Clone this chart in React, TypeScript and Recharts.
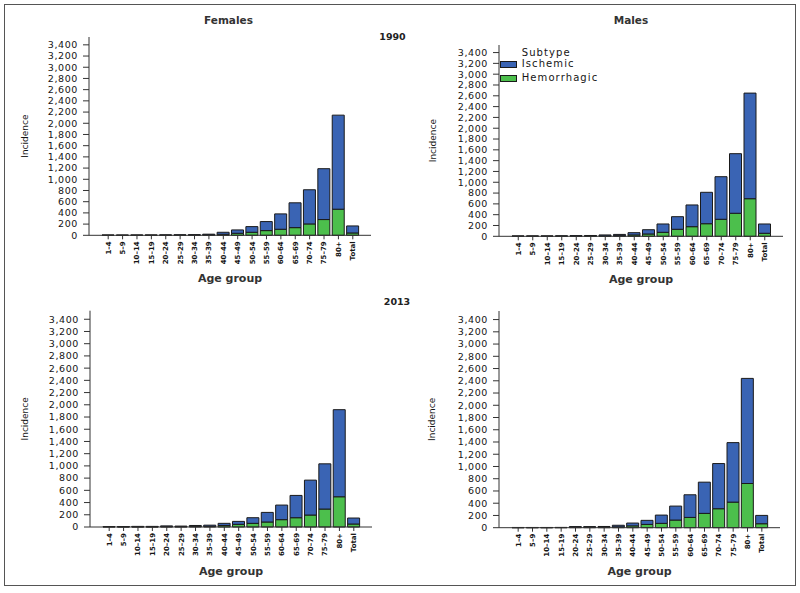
import React from 'react';
import { BarChart, Bar, XAxis, YAxis, Legend } from 'recharts';

const ageGroups = ['1–4', '5–9', '10–14', '15–19', '20–24', '25–29', '30–34', '35–39', '40–44', '45–49', '50–54', '55–59', '60–64', '65–69', '70–74', '75–79', '80+', 'Total'];
const yTicks = [0, 200, 400, 600, 800, 1000, 1200, 1400, 1600, 1800, 2000, 2200, 2400, 2600, 2800, 3000, 3200, 3400];

// Females 1990
const femIsch1990 = [2, 1, 1, 2, 3, 3, 5, 12, 36, 60, 101, 161, 274, 443, 610, 908, 1679, 125];
const femHem1990 = [1, 1, 2, 2, 3, 4, 5, 8, 18, 36, 54, 84, 108, 137, 203, 281, 466, 42];
// Males 1990
const maleIsch1990 = [3, 4, 4, 5, 8, 10, 17, 23, 42, 79, 154, 233, 402, 581, 788, 1103, 1954, 172];
const maleHem1990 = [2, 2, 2, 3, 4, 5, 8, 12, 25, 43, 74, 130, 178, 233, 315, 426, 696, 56];
// Females 2013
const femIsch2013 = [4, 5, 7, 7, 12, 9, 17, 20, 35, 48, 92, 157, 239, 365, 571, 740, 1425, 98];
const femHem2013 = [4, 3, 3, 3, 6, 6, 8, 10, 25, 44, 60, 82, 120, 152, 196, 294, 495, 49];
// Males 2013
const maleIsch2013 = [3, 3, 3, 3, 12, 12, 13, 26, 46, 66, 135, 228, 370, 510, 738, 972, 1717, 136];
const maleHem2013 = [1, 1, 1, 2, 6, 6, 7, 14, 30, 54, 71, 125, 168, 234, 310, 418, 722, 65];

const BLUE = '#3a64b4';
const GREEN = '#4cbf4c';
const FONT = '"DejaVu Sans", sans-serif';
const TXT = '#151515';

const build = (isch: number[], hem: number[]) =>
  ageGroups.map((age, i) => ({ age, isch: isch[i], hem: hem[i] }));

const fmt = (v: number) => v.toLocaleString('en-US');

const XTick = (props: any) => {
  const { x, y, payload } = props;
  return (
    <text
      x={x}
      y={y}
      transform={`rotate(-90, ${x}, ${y})`}
      textAnchor="end"
      dy="0.35em"
      fontFamily={FONT}
      fontSize={7}
      fontWeight="bold"
      fill={TXT}
    >
      {payload.value}
    </text>
  );
};

const LegendContent = (props: any) => {
  const payload = [...(props.payload || [])].reverse();
  return (
    <div style={{ position: 'relative', width: 130, height: 45, fontFamily: FONT, fontSize: 10, letterSpacing: 1.1, color: TXT }}>
      <div style={{ position: 'absolute', left: 21.7, top: 3.1, lineHeight: '10.4px', whiteSpace: 'nowrap' }}>Subtype</div>
      {payload.map((p: any, i: number) => (
        <React.Fragment key={p.value}>
          <div
            style={{
              position: 'absolute',
              left: 0,
              top: 15.7 + i * 14.3,
              width: 16.5,
              height: 7,
              boxSizing: 'border-box',
              background: p.color,
              border: '1px solid #1a1a1a',
            }}
          />
          <div style={{ position: 'absolute', left: 21.7, top: 13.8 + i * 13.7, lineHeight: '10.4px', whiteSpace: 'nowrap' }}>{p.value}</div>
        </React.Fragment>
      ))}
    </div>
  );
};

type Cfg = {
  x: number;
  y: number;
  w: number;
  h: number;
  margin: { top: number; right: number; bottom: number; left: number };
  yLabelOffset: number;
  xLabelOffset: number;
};

const Panel = ({ data, cfg, legend }: { data: any[]; cfg: Cfg; legend?: boolean }) => (
  <div style={{ position: 'absolute', left: cfg.x, top: cfg.y }}>
    <BarChart width={cfg.w} height={cfg.h} data={data} margin={cfg.margin} barSize={12}>
      <XAxis
        dataKey="age"
        interval={0}
        tick={<XTick />}
        tickSize={4}
        tickMargin={2}
        height={50}
        padding={{ left: 12, right: 11 }}
        axisLine={{ stroke: '#333' }}
        tickLine={{ stroke: '#333' }}
        label={{
          value: 'Age group',
          position: 'insideBottom',
          offset: cfg.xLabelOffset,
          style: { fontFamily: FONT, fontSize: 11, fontWeight: 'bold', fill: '#333' },
        }}
      />
      <YAxis
        width={74}
        domain={[0, 3540]}
        ticks={yTicks}
        interval={0}
        tickFormatter={fmt}
        tickSize={6}
        tickMargin={5}
        axisLine={{ stroke: '#333' }}
        tickLine={{ stroke: '#333' }}
        tick={{ fontFamily: FONT, fontSize: 9.5, fill: TXT, letterSpacing: 0.6 }}
        label={{
          value: 'Incidence',
          angle: -90,
          position: 'insideLeft',
          offset: cfg.yLabelOffset,
          style: { textAnchor: 'middle', fontFamily: FONT, fontSize: 9, fill: TXT },
        }}
      />
      {legend && (
        <Legend
          layout="horizontal"
          verticalAlign="middle"
          align="center"
          content={<LegendContent />}
          wrapperStyle={{ left: 100, top: 45, width: 130, height: 45 }}
        />
      )}
      <Bar dataKey="hem" name="Hemorrhagic" stackId="s" fill={GREEN} stroke="#1a1a1a" strokeWidth={1} isAnimationActive={false} />
      <Bar dataKey="isch" name="Ischemic" stackId="s" fill={BLUE} stroke="#1a1a1a" strokeWidth={1} isAnimationActive={false} />
    </BarChart>
  </div>
);

const panels: Cfg[] = [
  { x: 0, y: 0, w: 400, h: 300, margin: { top: 37, right: 29, bottom: 14.7, left: 15 }, yLabelOffset: 10, xLabelOffset: 3.3 },
  { x: 400, y: 0, w: 400, h: 300, margin: { top: 45, right: 17, bottom: 13.7, left: 25 }, yLabelOffset: 8, xLabelOffset: 3.6 },
  { x: 0, y: 290, w: 400, h: 303, margin: { top: 20.7, right: 28, bottom: 16, left: 16 }, yLabelOffset: 9, xLabelOffset: 2 },
  { x: 400, y: 290, w: 400, h: 303, margin: { top: 21, right: 20, bottom: 15.3, left: 25 }, yLabelOffset: 7, xLabelOffset: 2.7 },
];

const titleStyle: React.CSSProperties = {
  position: 'absolute',
  width: 200,
  textAlign: 'center',
  fontFamily: FONT,
  fontSize: 10.5,
  fontWeight: 'bold',
  color: '#333',
  lineHeight: '14px',
};

const yearStyle: React.CSSProperties = { ...titleStyle, fontSize: 9.5, color: '#222' };

export default function App() {
  return (
    <div style={{ position: 'absolute', left: 0, top: 0, width: 800, height: 593, background: '#fff', overflow: 'hidden' }}>
      <div
        style={{
          position: 'absolute',
          left: 4,
          top: 4,
          width: 792,
          height: 582,
          boxSizing: 'border-box',
          border: '1.5px solid #555',
        }}
      />
      <Panel data={build(femIsch1990, femHem1990)} cfg={panels[0]} />
      <Panel data={build(maleIsch1990, maleHem1990)} cfg={panels[1]} legend />
      <Panel data={build(femIsch2013, femHem2013)} cfg={panels[2]} />
      <Panel data={build(maleIsch2013, maleHem2013)} cfg={panels[3]} />
      <div style={{ ...titleStyle, left: 128.5, top: 13 }}>Females</div>
      <div style={{ ...titleStyle, left: 531, top: 13 }}>Males</div>
      <div style={{ ...yearStyle, left: 292.5, top: 30.3 }}>1990</div>
      <div style={{ ...yearStyle, left: 297, top: 295 }}>2013</div>
    </div>
  );
}
